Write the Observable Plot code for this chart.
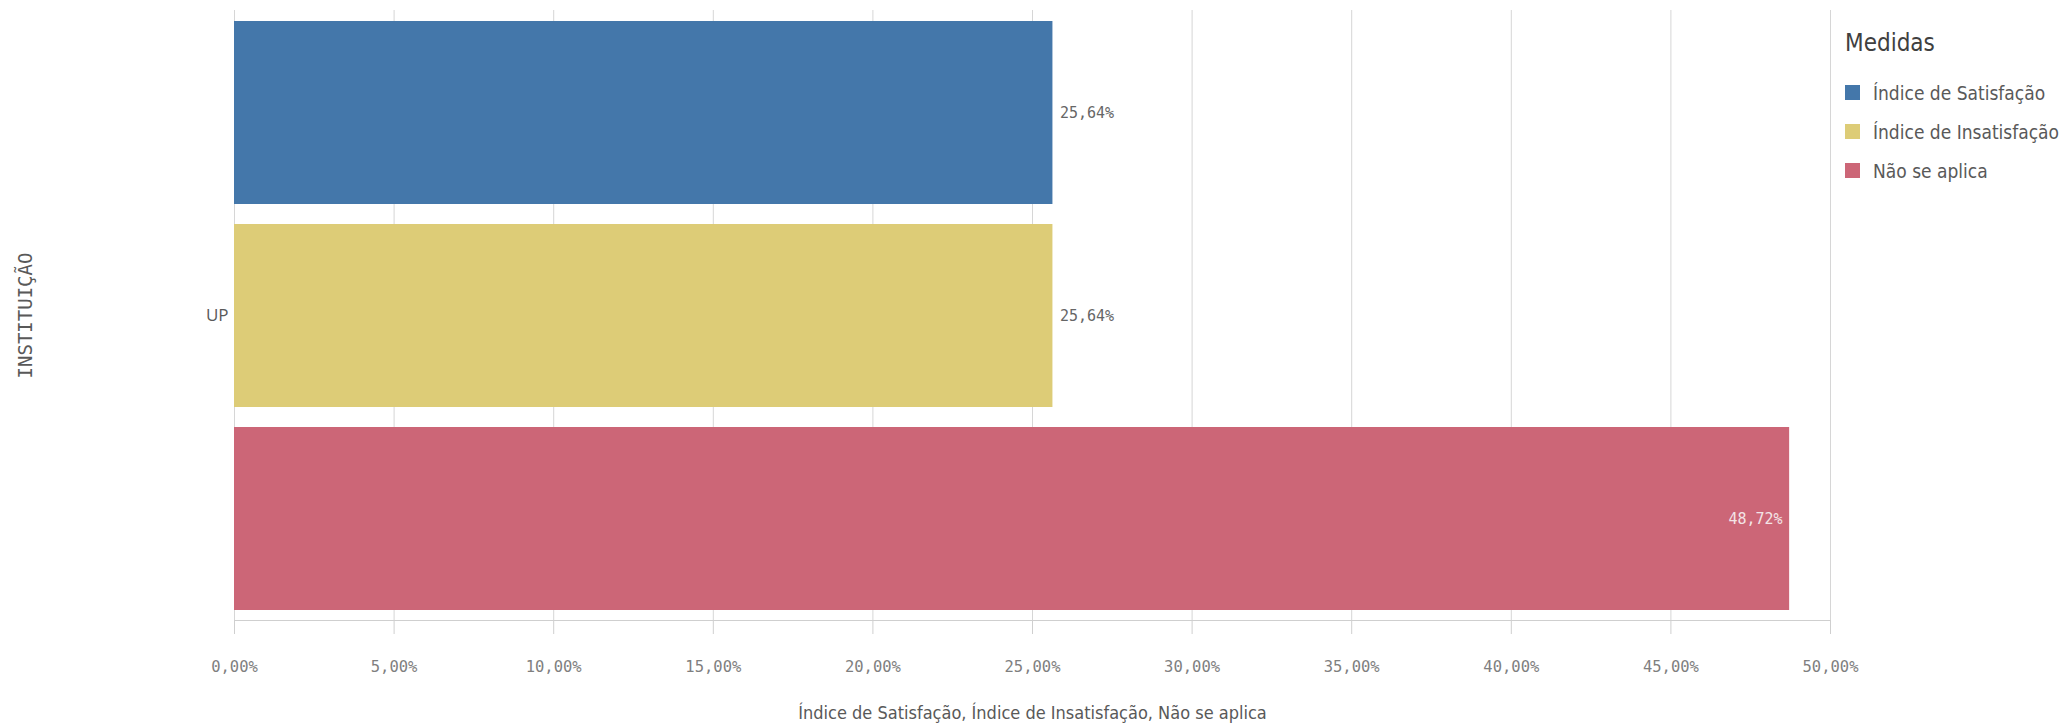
<!DOCTYPE html>
<html>
<head>
<meta charset="utf-8">
<script src="https://cdn.jsdelivr.net/npm/d3@7"></script>
<script src="https://cdn.jsdelivr.net/npm/@observablehq/plot@0.6"></script>
<style>
  html, body { margin: 0; padding: 0; background: #fff; }
  #wrap { position: relative; width: 2070px; height: 728px; }
  .narrow { font-family: "Liberation Sans Narrow", "DejaVu Sans Condensed", "Roboto Condensed", Roboto, sans-serif; font-stretch: condensed; }
  #legend { position: absolute; left: 1845px; top: 29px; color: #595959; }
  #legend .title { font-size: 24px; color: #404040; margin-bottom: 16px; }
  #legend .item { display: flex; align-items: center; height: 39px; font-size: 19px; white-space: nowrap; }
  #legend .sw { width: 15px; height: 15px; margin-right: 13px; }
  svg g[aria-label="x-axis tick label"] { font-family: "DejaVu Sans Mono", monospace; font-size: 15.5px; }
  svg g[aria-label="x-axis label"] { font-family: "Liberation Sans Narrow", "DejaVu Sans Condensed", Roboto, sans-serif; font-stretch: condensed; font-size: 18px; }
  svg g[aria-label="fy-axis tick label"] { font-family: "Open Sans", sans-serif; font-size: 17px; }
  svg g[aria-label="fy-axis label"] { font-family: "DejaVu Sans Mono", monospace; font-size: 19px; }
  svg g[aria-label="text"] { font-family: "DejaVu Sans Mono", monospace; font-size: 15px; }
</style>
</head>
<body>
<div id="wrap"></div>
<script>
const institutions = ["UP"];
const measures = ["Índice de Satisfação", "Índice de Insatisfação", "Não se aplica"];
const values = [25.64, 25.64, 48.72];
const colors = ["#4477aa", "#ddcc77", "#cc6677"];
const xTicks = [0, 5, 10, 15, 20, 25, 30, 35, 40, 45, 50];
const xTitle = "Índice de Satisfação, Índice de Insatisfação, Não se aplica";
const yTitle = "INSTITUIÇÃO";
const legendTitle = "Medidas";

const rows = measures.map((m, i) => ({institution: institutions[0], measure: m, value: values[i]}));
const fmt = v => v.toFixed(2).replace(".", ",") + "%";

const chart = Plot.plot({
  width: 2070,
  height: 728,
  marginLeft: 234,
  marginRight: 240,
  marginTop: 10,
  marginBottom: 108,
  style: {fontFamily: "Roboto, sans-serif", fontSize: "15px", background: "#fff"},
  x: {domain: [0, 50]},
  y: {domain: measures, paddingInner: 0.1, paddingOuter: 0.05, axis: null},
  fy: {domain: institutions, padding: 0},
  color: {domain: measures, range: colors},
  marks: [
    Plot.gridX(xTicks, {stroke: "#d6d6d6", strokeOpacity: 1}),
    Plot.frame({anchor: "bottom", stroke: "#cfcfcf"}),
    Plot.barX(rows, {x: "value", y: "measure", fy: "institution", fill: "measure"}),
    Plot.text(rows, {filter: d => d.value < 40, x: "value", y: "measure", fy: "institution",
      text: d => fmt(d.value), textAnchor: "start", dx: 7, fill: "#666666"}),
    Plot.text(rows, {filter: d => d.value >= 40, x: "value", y: "measure", fy: "institution",
      text: d => fmt(d.value), textAnchor: "end", dx: -7, fill: "#f3e4e6"}),
    Plot.axisX({ticks: xTicks, tickFormat: fmt, tickSize: 14, tickPadding: 26, stroke: "#cfcfcf",
      color: "#7f7f7f", label: xTitle, labelAnchor: "center", labelArrow: "none", labelOffset: 98}),
    Plot.axisFy({anchor: "left", tickSize: 0, tickPadding: 6, color: "#595959",
      label: yTitle, labelAnchor: "center", labelArrow: "none", labelOffset: 216})
  ]
});

const wrap = document.getElementById("wrap");
wrap.appendChild(chart);
chart.querySelectorAll('g[aria-label="x-axis label"] text, g[aria-label="fy-axis label"] text').forEach(t => t.setAttribute("fill", "#595959"));

const legend = document.createElement("div");
legend.id = "legend";
legend.className = "narrow";
const title = document.createElement("div");
title.className = "title";
title.textContent = legendTitle;
legend.appendChild(title);
measures.forEach((m, i) => {
  const item = document.createElement("div");
  item.className = "item";
  const sw = document.createElement("span");
  sw.className = "sw";
  sw.style.background = colors[i];
  const lab = document.createElement("span");
  lab.textContent = m;
  item.appendChild(sw);
  item.appendChild(lab);
  legend.appendChild(item);
});
wrap.appendChild(legend);
</script>
</body>
</html>
